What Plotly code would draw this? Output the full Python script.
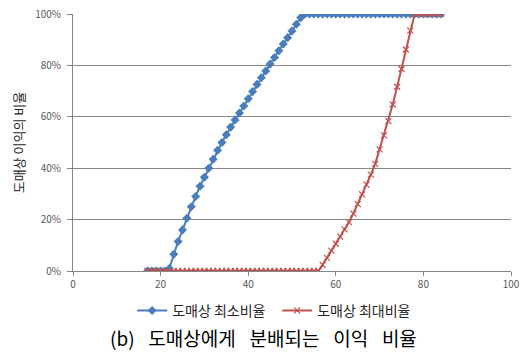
import plotly.graph_objects as go

# Price axis (x) and the wholesaler's share (fraction of profit)
x_vals = list(range(17, 85))

min_share_pct = [0, 0, 0, 0, 0,
                 1, 6.5, 11.5, 16, 20.5, 25, 29, 33, 36.5, 40, 43.5, 47,
                 50, 53, 56, 58.8, 61.5, 64.2, 67, 69.8, 72.6, 75.2, 77.8,
                 80.5, 83.1, 85.7, 88.3, 90.8, 93.4, 96, 98.6] + [100] * 32

max_share_pct = [0] * 40 + [
    2.4, 5.1, 7.9, 10.6, 13.4, 16.2, 19.0, 22.3, 26.0, 29.8, 33.6, 37.5,
    41.7, 47.3, 52.8, 58.3, 64.8, 71.7, 78.6, 86.2, 93.5] + [100] * 7

series_names = ["도매상 최소비율", "도매상 최대비율"]
y_title = "도매상 이익의 비율"
gap = "\u00a0\u2002"
caption = gap.join(["(b)", "도매상에게", "분배되는", "이익", "비율"])

x_ticks = [0, 20, 40, 60, 80, 100]
y_ticks = [0, 0.2, 0.4, 0.6, 0.8, 1.0]

BLUE = "#4A7EBB"
RED = "#C0504D"
AXIS = "#868686"
KR = "Noto Sans CJK KR"

fig = go.Figure()
fig.add_trace(go.Scatter(
    x=x_vals, y=[v / 100 for v in min_share_pct], name=series_names[0],
    mode="lines+markers",
    line=dict(color=BLUE, width=2),
    marker=dict(symbol="diamond", size=7, color=BLUE),
))
fig.add_trace(go.Scatter(
    x=x_vals, y=[v / 100 for v in max_share_pct], name=series_names[1],
    mode="lines+markers",
    line=dict(color=RED, width=2),
    marker=dict(symbol="x-thin", size=6, line=dict(color=RED, width=1.2), color=RED),
))

fig.update_layout(
    width=526, height=353,
    margin=dict(l=72.5, r=14.5, t=13.5, b=82, autoexpand=False),
    paper_bgcolor="white", plot_bgcolor="white",
    font=dict(family=KR, size=10, color="#404040"),
    showlegend=True,
    legend=dict(
        orientation="h", x=0.135, xanchor="left", y=-0.155, yanchor="middle",
        font=dict(family=KR, size=14, color="#262626"),
        itemwidth=30, tracegroupgap=0, entrywidth=100,
    ),
    xaxis=dict(
        range=[0, 100], tickvals=x_ticks, showgrid=False, zeroline=False,
        showline=True, linecolor=AXIS, linewidth=1, automargin=False,
        ticks="outside", ticklen=4, tickcolor=AXIS,
        tickfont=dict(family=KR, size=10, color="#595959"),
    ),
    yaxis=dict(
        range=[0, 1], tickvals=y_ticks, tickformat=".0%",
        showgrid=True, gridcolor=AXIS, gridwidth=1, zeroline=False,
        showline=True, linecolor=AXIS, linewidth=1, automargin=False,
        ticks="outside", ticklen=5, tickcolor=AXIS, ticklabelstandoff=4,
        tickfont=dict(family=KR, size=10, color="#595959"),
    ),
    annotations=[
        dict(text=y_title, xref="paper", yref="paper", x=-0.15, y=0.5,
             textangle=-90, showarrow=False,
             font=dict(family=KR, size=13, color="#262626")),
        dict(text=caption, xref="paper", yref="paper", x=0.436, y=-0.26,
             xanchor="center", yanchor="middle", showarrow=False,
             font=dict(family=KR, size=19, color="#000000")),
    ],
)

fig.write_html("out.html")
